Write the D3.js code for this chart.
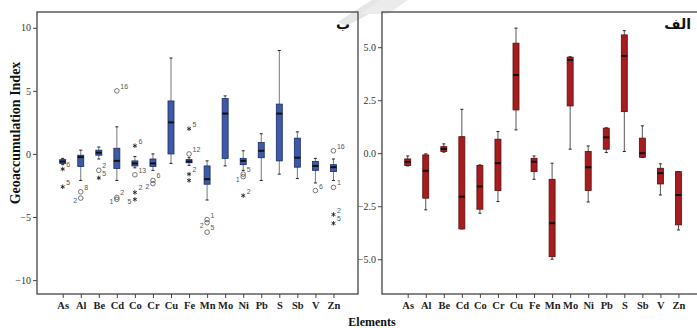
<!DOCTYPE html>
<meta charset="utf-8">
<style>
body { margin: 0; background: #fff; }
.tick text { font: 10px "Liberation Serif", serif; fill: #333; }
.xax .tick text { font: bold 10.5px "Liberation Serif", serif; fill: #222; }
.domain { display: none; }
.tick line { stroke: #444; }
.olab { font: 7px "Liberation Sans", Arial, sans-serif; fill: #555; }
</style>
<svg width="697" height="328"></svg>
<script src="https://cdn.jsdelivr.net/npm/d3@7"></script>
<script>

var elements = ["As", "Al", "Be", "Cd", "Co", "Cr", "Cu", "Fe", "Mn", "Mo", "Ni", "Pb", "S", "Sb", "V", "Zn"];

// panel "ب" (left)
var leftLow  = [-0.85, -2.1, -0.4, -2.1, -1.1, -1.3, -0.75, -0.9, -3.65, -0.95, -1.3, -2.1, -1.6, -1.95, -2.3, -2.1];
var leftQ1   = [-0.75, -1.0, -0.1, -1.15, -0.95, -1.0, 0.0, -0.7, -2.4, -0.35, -0.85, -0.3, -0.55, -1.05, -1.3, -1.4];
var leftMed  = [-0.6, -0.25, 0.1, -0.55, -0.75, -0.75, 2.5, -0.6, -2.0, 3.2, -0.55, 0.25, 3.2, -0.3, -0.95, -1.05];
var leftQ3   = [-0.45, -0.1, 0.3, 0.45, -0.55, -0.4, 4.2, -0.45, -0.95, 4.4, -0.35, 0.9, 3.95, 1.25, -0.6, -0.85];
var leftHigh = [-0.35, 0.3, 0.55, 2.15, -0.2, 0.0, 7.6, -0.3, -0.55, 4.6, 0.25, 1.6, 8.2, 1.75, -0.35, -0.4];
var leftOutliers = [
  ["As", -1.2, "*", "6"], ["As", -2.6, "*", "5"],
  ["Al", -3.0, "o", "8"], ["Al", -3.5, "o", "2"],
  ["Be", -1.3, "o", "2"], ["Be", -1.9, "*", "5"],
  ["Cd", 5.0, "o", "16"], ["Cd", -3.45, "o", "2"], ["Cd", -3.6, "o", "1"],
  ["Co", 0.65, "*", "6"], ["Co", -1.65, "o", "13"], ["Co", -3.05, "*", "2"], ["Co", -3.6, "*", "5"],
  ["Cr", -2.1, "o", "6"], ["Cr", -2.35, "o", "2"],
  ["Fe", 2.0, "*", "5"], ["Fe", 0.0, "o", "12"], ["Fe", -1.6, "*", "2"], ["Fe", -2.1, "*", ""],
  ["Mn", -5.2, "o", "1"], ["Mn", -5.45, "o", "2"], ["Mn", -6.2, "o", "5"],
  ["Ni", -1.6, "o", "5"], ["Ni", -1.8, "o", "1"], ["Ni", -3.3, "*", "2"],
  ["V", -2.9, "o", "6"],
  ["Zn", 0.25, "o", "16"], ["Zn", -2.65, "o", "1"], ["Zn", -4.8, "*", "2"], ["Zn", -5.5, "*", "5"]
];
var leftTicks = [-10, -5, 0, 5, 10];

// panel "الف" (right)
var rightLow  = [-0.6, -2.67, 0.05, -3.57, -2.83, -2.28, 1.1, -1.23, -5.0, 0.19, -2.3, 0.03, 0.08, -0.2, -1.97, -3.62];
var rightQ1   = [-0.58, -2.12, 0.08, -3.57, -2.64, -1.76, 2.04, -0.87, -4.88, 2.23, -1.76, 0.19, 1.96, -0.19, -1.45, -3.38];
var rightMed  = [-0.41, -0.83, 0.2, -2.05, -1.57, -0.47, 3.69, -0.4, -3.3, 4.4, -0.66, 0.75, 4.59, 0.0, -0.94, -1.97];
var rightQ3   = [-0.27, -0.08, 0.31, 0.78, -0.58, 0.66, 5.19, -0.24, -1.23, 4.53, 0.08, 1.18, 5.58, 0.71, -0.71, -0.87];
var rightHigh = [-0.13, -0.03, 0.44, 2.07, -0.55, 1.02, 5.9, -0.13, -0.47, 4.55, 0.34, 1.2, 5.78, 1.29, -0.5, -0.87];
var rightTicks = [-5, -2.5, 0, 2.5, 5];

var svg = d3.select("svg");

// faint watermark at the top
svg.append("path").attr("d", "M338,22 C350,14 362,6 372,0 L392,0 C378,10 362,18 346,26 Z").attr("fill", "#e6e6e6");
svg.append("path").attr("d", "M360,14 L380,0 L408,0 L388,14 Z").attr("fill", "#ebebeb");

function panel(opt) {
  var g = svg.append("g");
  var x = d3.scalePoint().domain(elements).range([opt.x0 + 25.7, opt.x0 + 25.7 + 15 * 18.05]);
  var y = d3.scaleLinear().domain(opt.ydom).range([opt.y1, opt.y0]);

  g.append("rect")
    .attr("x", opt.x0).attr("y", opt.y0)
    .attr("width", opt.x1 - opt.x0).attr("height", opt.y1 - opt.y0)
    .attr("fill", "none").attr("stroke", "#444").attr("stroke-width", 1.3);

  g.append("g").attr("transform", "translate(" + opt.x0 + ",0)")
    .call(d3.axisLeft(y).tickValues(opt.ticks).tickSize(4).tickPadding(2).tickFormat(opt.fmt));

  g.append("g").attr("class", "xax").attr("transform", "translate(0," + opt.y1 + ")")
    .call(d3.axisBottom(x).tickSize(4).tickPadding(4));

  var bw = 6;
  var boxes = g.selectAll(".bx").data(elements).enter().append("g");

  boxes.append("line")
    .attr("x1", function(d) { return x(d); }).attr("x2", function(d) { return x(d); })
    .attr("y1", function(d, i) { return y(opt.high[i]); })
    .attr("y2", function(d, i) { return y(opt.low[i]); })
    .attr("stroke", opt.whisker).attr("stroke-width", 1);
  boxes.selectAll(".cap")
    .data(function(d, i) { return [[d, opt.high[i]], [d, opt.low[i]]]; })
    .enter().append("line")
    .attr("x1", function(d) { return x(d[0]) - 1.5; }).attr("x2", function(d) { return x(d[0]) + 1.5; })
    .attr("y1", function(d) { return y(d[1]); }).attr("y2", function(d) { return y(d[1]); })
    .attr("stroke", "#222").attr("stroke-width", 1);
  boxes.append("rect")
    .attr("x", function(d) { return x(d) - bw / 2; })
    .attr("y", function(d, i) { return y(opt.q3[i]); })
    .attr("width", bw)
    .attr("height", function(d, i) { return Math.max(2, y(opt.q1[i]) - y(opt.q3[i])); })
    .attr("fill", opt.fill).attr("stroke", opt.stroke).attr("stroke-width", 0.8);
  boxes.append("line")
    .attr("x1", function(d) { return x(d) - bw / 2; }).attr("x2", function(d) { return x(d) + bw / 2; })
    .attr("y1", function(d, i) { return y(opt.med[i]); })
    .attr("y2", function(d, i) { return y(opt.med[i]); })
    .attr("stroke", "#111").attr("stroke-width", 2);

  // outlier labels sit above-right; when the outlier just above in the
  // same column is too close, the label moves to the left side
  var outs = (opt.outliers || []).map(function(d, i, arr) {
    var prev = arr[i - 1];
    var close = prev && prev[0] === d[0] && (y(d[1]) - y(prev[1])) < 7;
    return { d: d, left: close };
  });

  var out = g.selectAll(".out").data(outs).enter().append("g")
    .attr("transform", function(o) { return "translate(" + x(o.d[0]) + "," + y(o.d[1]) + ")"; });
  out.filter(function(o) { return o.d[2] === "o"; }).append("circle")
    .attr("r", 2.3).attr("fill", "none").attr("stroke", "#555").attr("stroke-width", 0.8);
  out.filter(function(o) { return o.d[2] === "*"; }).append("path")
    .attr("d", d3.symbol(d3.symbolAsterisk, 14))
    .attr("fill", "none").attr("stroke", "#222").attr("stroke-width", 0.9);
  out.append("text").attr("class", "olab")
    .attr("x", function(o) { return o.left ? -3.5 : 3.5; })
    .attr("y", function(o) { return o.left ? 5 : -2; })
    .attr("text-anchor", function(o) { return o.left ? "end" : "start"; })
    .text(function(o) { return o.d[3]; });

  g.append("text")
    .attr("x", opt.x1 - 8).attr("y", opt.y0 + 17)
    .attr("text-anchor", "end")
    .style("font", "bold 14px 'DejaVu Sans', sans-serif")
    .attr("fill", "#111")
    .text(opt.title);
}

panel({
  x0: 37, x1: 358, y0: 12, y1: 294,
  ydom: [-11.1, 11.25], ticks: leftTicks, fmt: d3.format("d"),
  low: leftLow, q1: leftQ1, med: leftMed, q3: leftQ3, high: leftHigh,
  outliers: leftOutliers,
  fill: "#3d5aa8", stroke: "#1c2c66", whisker: "#777",
  title: "ب"
});

panel({
  x0: 382, x1: 699, y0: 12, y1: 294,
  ydom: [-6.64, 6.66], ticks: rightTicks, fmt: d3.format(".1f"),
  low: rightLow, q1: rightQ1, med: rightMed, q3: rightQ3, high: rightHigh,
  fill: "#a51d1f", stroke: "#5c0c0c", whisker: "#555",
  title: "الف"
});

svg.append("text")
  .attr("transform", "translate(20,133) rotate(-90)")
  .attr("text-anchor", "middle")
  .style("font", "bold 14px 'Liberation Serif', serif")
  .attr("fill", "#111")
  .text("Geoaccumulation Index");

svg.append("text")
  .attr("x", 372).attr("y", 326)
  .attr("text-anchor", "middle")
  .style("font", "bold 12px 'Liberation Serif', serif")
  .attr("fill", "#111")
  .text("Elements");
</script>
